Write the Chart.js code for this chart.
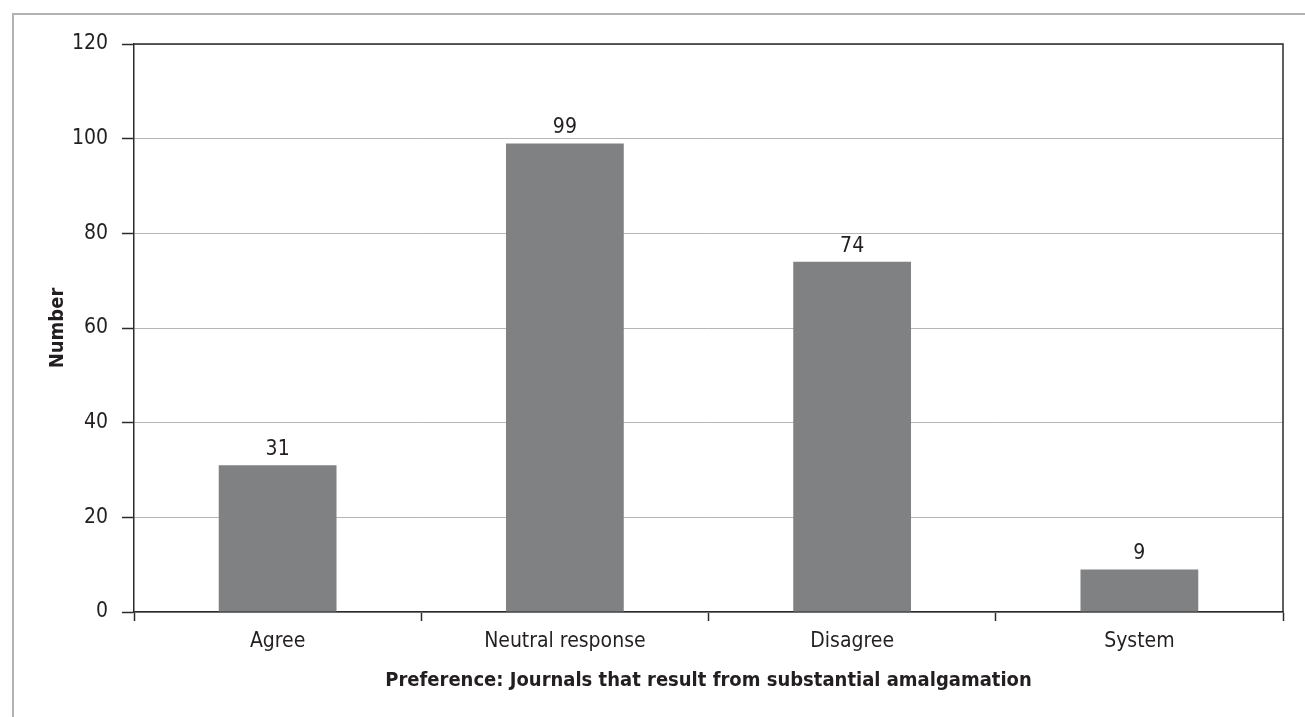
<!DOCTYPE html>
<html>
<head>
<meta charset="utf-8">
<script src="https://cdn.jsdelivr.net/npm/chart.js@4.4.1/dist/chart.umd.min.js"></script>
<style>
    html, body { margin: 0; padding: 0; background: #fff; }
    #wrap { position: relative; width: 1305px; height: 717px; overflow: hidden; }
    /* 枠線（左と上） */
    #frame { position: absolute; left: 12px; top: 13px; right: -10px; bottom: -10px;
             border-left: 2px solid #b3b3b3; border-top: 2px solid #b3b3b3; }
    #chart { position: absolute; left: 0; top: 0; }
</style>
</head>
<body>
<div id="wrap">
    <div id="frame"></div>
    <canvas id="chart" width="1305" height="717"></canvas>
</div>
<script>
// データ
const categories = ['Agree', 'Neutral response', 'Disagree', 'System'];
const counts = [31, 99, 74, 9];
const yTicks = [0, 20, 40, 60, 80, 100, 120];

const FONT = "'DejaVu Sans Condensed', 'Liberation Sans Narrow', sans-serif";
const TEXT = '#231f20';
const AXIS = '#2b2b2b';

// 棒の上に値を表示
const valueLabels = {
    id: 'valueLabels',
    afterDatasetsDraw(chart) {
        const ctx = chart.ctx;
        const meta = chart.getDatasetMeta(0);
        ctx.save();
        ctx.font = '21px ' + FONT;
        ctx.fillStyle = TEXT;
        ctx.textAlign = 'center';
        ctx.textBaseline = 'alphabetic';
        meta.data.forEach((bar, i) => {
            ctx.fillText(String(counts[i]), bar.x, bar.y - 10);
        });
        ctx.restore();
    }
};

// プロット領域の枠
const plotBorder = {
    id: 'plotBorder',
    afterDraw(chart) {
        const { ctx, chartArea: a } = chart;
        ctx.save();
        ctx.strokeStyle = AXIS;
        ctx.lineWidth = 1.5;
        ctx.beginPath();
        ctx.moveTo(a.left, a.top);
        ctx.lineTo(a.right, a.top);
        ctx.lineTo(a.right, a.bottom);
        ctx.stroke();
        ctx.restore();
    }
};

new Chart(document.getElementById('chart'), {
    type: 'bar',
    data: {
        labels: categories,
        datasets: [{
            data: counts,
            backgroundColor: '#808183',
            borderWidth: 0,
            barPercentage: 0.41,
            categoryPercentage: 1.0
        }]
    },
    options: {
        responsive: false,
        animation: false,
        layout: { padding: { left: 0, top: 44, right: 22, bottom: 0 } },
        plugins: {
            legend: { display: false },
            tooltip: { enabled: false }
        },
        scales: {
            x: {
                afterFit(scale) { scale.height = 105; },
                grid: {
                    display: true,
                    offset: true,
                    drawOnChartArea: false,
                    tickLength: 9,
                    tickColor: AXIS,
                    tickWidth: 1.5
                },
                border: { color: AXIS, width: 1.5 },
                ticks: {
                    color: TEXT,
                    font: { family: FONT, size: 21 },
                    padding: 8,
                    maxRotation: 0
                },
                title: {
                    display: true,
                    text: 'Preference: Journals that result from substantial amalgamation',
                    color: TEXT,
                    font: { family: FONT, size: 20, weight: 'bold' },
                    padding: { top: 0, bottom: 24 }
                }
            },
            y: {
                min: 0,
                max: 120,
                afterFit(scale) { scale.width = 134; },
                afterBuildTicks(scale) {
                    scale.ticks = yTicks.map(v => ({ value: v }));
                },
                grid: {
                    color: '#b5b5b5',
                    lineWidth: 1,
                    tickLength: 12,
                    tickColor: AXIS,
                    tickWidth: 1.5
                },
                border: { color: AXIS, width: 1.5 },
                ticks: {
                    color: TEXT,
                    font: { family: FONT, size: 21 },
                    padding: 14
                },
                title: {
                    display: true,
                    text: 'Number',
                    color: TEXT,
                    font: { family: FONT, size: 20, weight: 'bold' },
                    padding: { top: 46, bottom: 0 }
                }
            }
        }
    },
    plugins: [valueLabels, plotBorder]
});
</script>
</body>
</html>
